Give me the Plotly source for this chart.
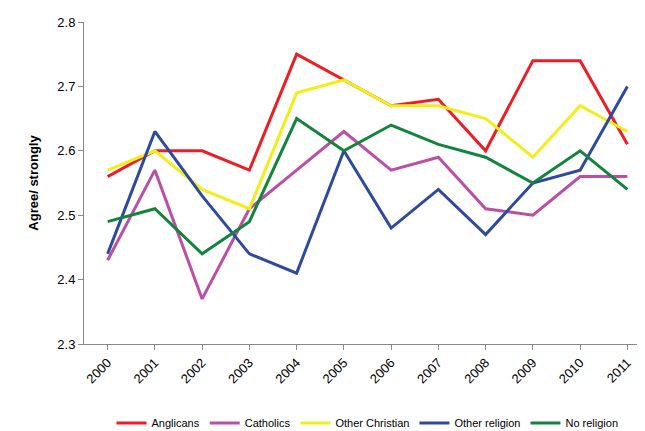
import plotly.graph_objects as go

years = [str(y) for y in range(2000, 2012)]
anglicans = [2.56, 2.60, 2.60, 2.57, 2.75, 2.71, 2.67, 2.68, 2.60, 2.74, 2.74, 2.61]
catholics = [2.43, 2.57, 2.37, 2.51, 2.57, 2.63, 2.57, 2.59, 2.51, 2.50, 2.56, 2.56]
other_christian = [2.57, 2.60, 2.54, 2.51, 2.69, 2.71, 2.67, 2.67, 2.65, 2.59, 2.67, 2.63]
other_religion = [2.44, 2.63, 2.53, 2.44, 2.41, 2.60, 2.48, 2.54, 2.47, 2.55, 2.57, 2.70]
no_religion = [2.49, 2.51, 2.44, 2.49, 2.65, 2.60, 2.64, 2.61, 2.59, 2.55, 2.60, 2.54]

series = [
    ('Anglicans', anglicans, '#ee1c25'),
    ('Catholics', catholics, '#bb4fa6'),
    ('Other Christian', other_christian, '#f2ee1a'),
    ('Other religion', other_religion, '#2e4a9e'),
    ('No religion', no_religion, '#13843c'),
]

fig = go.Figure()
for name, vals, col in series:
    fig.add_trace(go.Scatter(x=years, y=vals, name=name, mode='lines',
                             line=dict(color=col, width=3)))

fig.update_layout(
    width=645, height=431,
    plot_bgcolor='white', paper_bgcolor='white',
    margin=dict(l=76, r=2, t=14, b=76),
    font=dict(family='Liberation Sans, Arial', size=13, color='black'),
    legend=dict(orientation='h', x=0.5, xanchor='center', y=-0.2, yanchor='top',
                font=dict(size=11)),
    xaxis=dict(type='category', tickangle=-45, showline=True, linecolor='#888',
               ticks='outside', tickcolor='#888', range=[-0.5, 11.5]),
    yaxis=dict(range=[2.3, 2.8], dtick=0.1, tickformat='.1f', showline=True,
               linecolor='#888', ticks='outside', tickcolor='#888', showgrid=False,
               title=dict(text='<b>Agree/ strongly</b>', font=dict(size=13))),
)
fig.write_html('out.html')
